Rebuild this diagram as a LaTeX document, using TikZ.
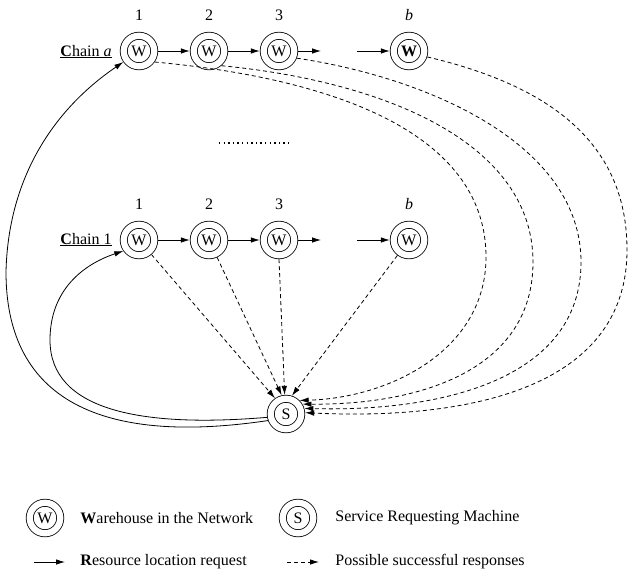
\documentclass[tikz,border=0pt]{standalone}
\usepackage{fontspec}
\setmainfont{Liberation Serif}
\usetikzlibrary{arrows.meta}
\begin{document}
\begin{tikzpicture}[x=1pt,y=-1pt,
  font=\fontsize{16}{19}\selectfont,
  line width=0.8pt,
  wnode/.style={circle, draw, double, double distance=6.3pt, minimum size=30.5pt, inner sep=0pt, outer sep=3.95pt},
  numlabel/.style={inner sep=0pt},
  req/.style={-{Latex[length=9pt,width=5.5pt]}},
  resp/.style={-{Latex[length=9pt,width=5.5pt]}, dash pattern=on 4pt off 3pt},
  chainlabel/.style={anchor=base east, inner sep=0pt}]
\useasboundingbox (0,0) rectangle (629,574);

% Chain a
\node[wnode] (a1) at (139,51) {W};
\node[wnode] (a2) at (209,51) {W};
\node[wnode] (a3) at (279,51) {W};
\node[wnode] (ab) at (409,51) {\textbf{W}};
\node[numlabel] (la1) at (139,15) {1};
\node[numlabel] (la2) at (209,15) {2};
\node[numlabel] (la3) at (279,15) {3};
\node[numlabel] (lab) at (409,15) {\textit{b}};
\node[chainlabel] (cha) at (112,56) {\underline{\textbf{C}hain \textit{a}}};
\coordinate (a3e) at (321,51);
\coordinate (abs) at (357,51);
\draw[req] (a1) -- (a2);
\draw[req] (a2) -- (a3);
\draw[req] (a3) -- (a3e);
\draw[req] (abs) -- (ab);

% dots
\draw[line width=1.3pt, dash pattern=on 1.3pt off 3.3pt] (219,143) -- (291,143);

% Chain 1
\node[wnode] (c1) at (139,240) {W};
\node[wnode] (c2) at (209,240) {W};
\node[wnode] (c3) at (279,240) {W};
\node[wnode] (cb) at (409,240) {W};
\node[numlabel] (lc1) at (139,204) {1};
\node[numlabel] (lc2) at (209,204) {2};
\node[numlabel] (lc3) at (279,204) {3};
\node[numlabel] (lcb) at (409,204) {\textit{b}};
\node[chainlabel] (ch1) at (112,244) {\underline{\textbf{C}hain 1}};
\coordinate (c3e) at (321,240);
\coordinate (cbs) at (357,240);
\draw[req] (c1) -- (c2);
\draw[req] (c2) -- (c3);
\draw[req] (c3) -- (c3e);
\draw[req] (cbs) -- (cb);

% Service requesting machine
\node[wnode] (S) at (286,414) {S};

% responses from chain 1
\draw[resp] (c1) -- (S.125);
\draw[resp] (c2) -- (S.103);
\draw[resp] (c3.south) -- (S.94);
\draw[resp] (cb) -- (S.72);

% responses from chain a
\draw[resp] (a1.-35) .. controls (350,80) and (486,140) .. (486,257)
  .. controls (486,350) and (390,398) .. (S.45);
\draw[resp] (a2.-50) .. controls (390,82) and (533,145) .. (533,262)
  .. controls (533,370) and (420,405) .. (S.31);
\draw[resp] (a3.-22) .. controls (430,78) and (581,145) .. (581,262)
  .. controls (581,380) and (440,412) .. (S.17);
\draw[resp] (ab.-18) .. controls (560,88) and (627,150) .. (627,250)
  .. controls (627,392) and (460,420) .. (S.4);

% requests from S
\draw[req] (S.190) .. controls (140,428) and (50,410) .. (50,340)
  .. controls (50,285) and (90,262) .. (c1.215);
\draw[req] (S.200) .. controls (90,447) and (6,392) .. (6,272)
  .. controls (8,182) and (50,112) .. (a1.215);

% legend
\node[wnode] (lw) at (45,518) {W};
\node[anchor=west, inner sep=0pt] (tw) at (80,518) {\textbf{W}arehouse in the Network};
\node[wnode] (ls) at (298,518) {S};
\node[anchor=west, inner sep=0pt] (ts) at (335,518) {Service Requesting Machine};
\coordinate (rq1) at (34,562);
\coordinate (rq2) at (65,562);
\draw[req] (rq1) -- (rq2);
\node[anchor=west, inner sep=0pt] (tr) at (80,562) {\textbf{R}esource location request};
\coordinate (rs1) at (287,562);
\coordinate (rs2) at (319,562);
\draw[resp] (rs1) -- (rs2);
\node[anchor=west, inner sep=0pt] (tp) at (335,562) {Possible successful responses};
\end{tikzpicture}
\end{document}
